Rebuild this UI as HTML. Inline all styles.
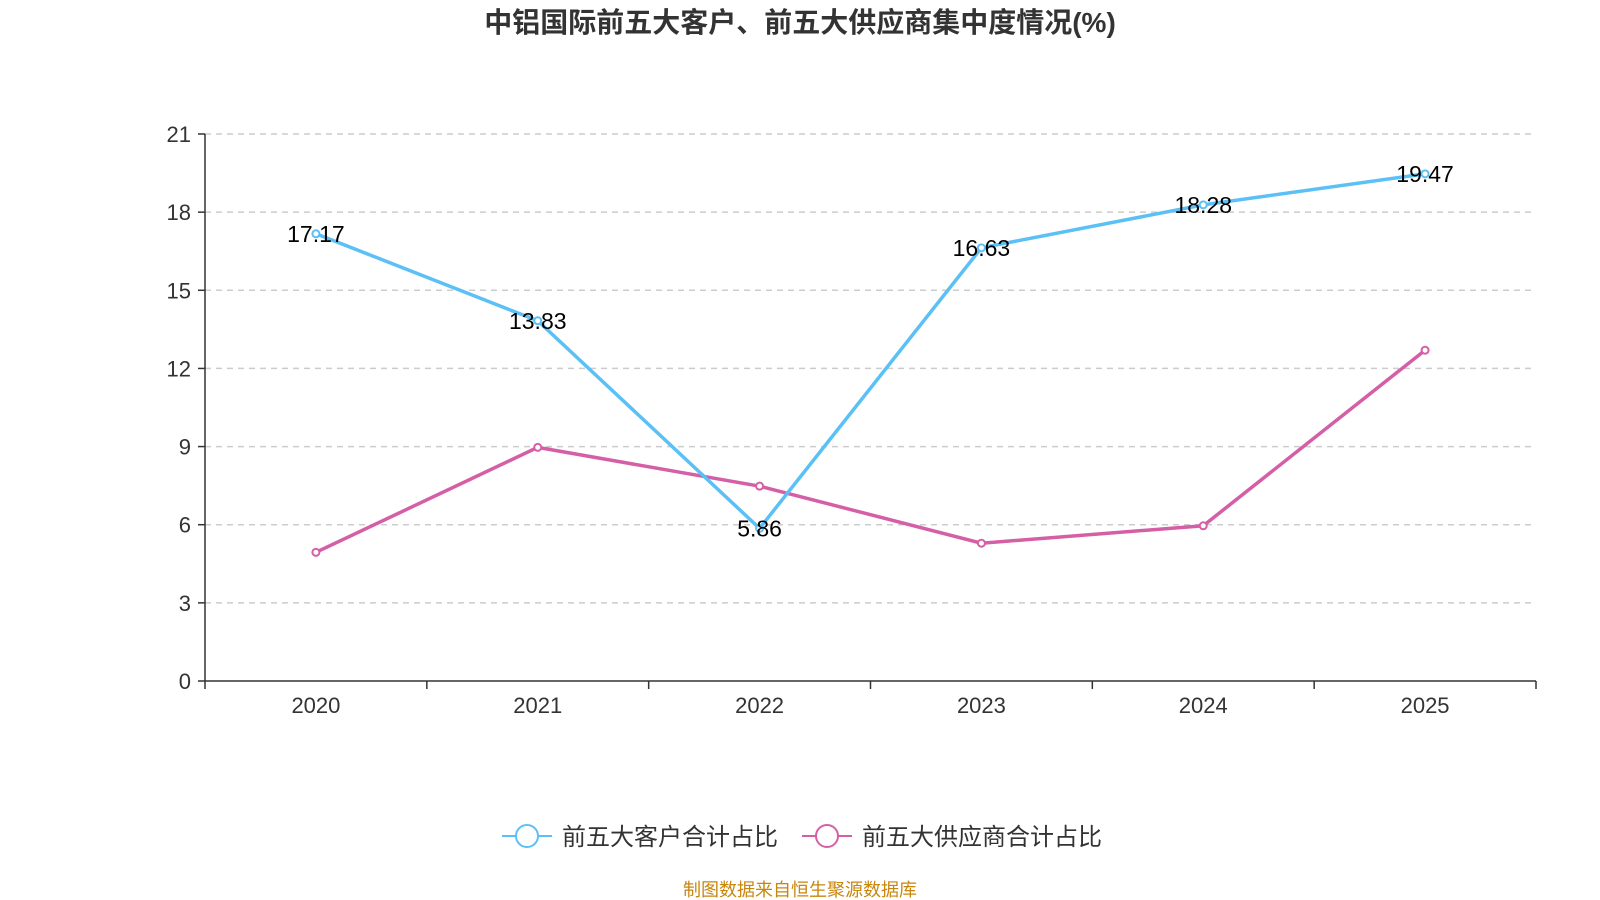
<!DOCTYPE html>
<html><head><meta charset="utf-8">
<style>
html,body{margin:0;padding:0;background:#fff;width:1600px;height:900px;overflow:hidden}
svg{display:block}
text{font-family:"Liberation Sans","Noto Sans CJK SC",sans-serif}
</style></head>
<body>
<svg id="chart" width="1600" height="900" xmlns="http://www.w3.org/2000/svg">
<text x="800" y="32" text-anchor="middle" font-size="28" font-weight="bold" fill="#333">中铝国际前五大客户、前五大供应商集中度情况(%)</text>
<g id="grid"></g><g id="axes"></g><g id="series"></g>
<g>
 <g>
  <line x1="502" y1="836" x2="552" y2="836" stroke="#5bc0f5" stroke-width="2"/>
  <circle cx="527" cy="836" r="11" fill="#fff" stroke="#5bc0f5" stroke-width="2"/>
  <text x="562" y="845" font-size="24" fill="#333">前五大客户合计占比</text>
 </g>
 <g>
  <line x1="802" y1="836" x2="852" y2="836" stroke="#d55fa6" stroke-width="2"/>
  <circle cx="827" cy="836" r="11" fill="#fff" stroke="#d55fa6" stroke-width="2"/>
  <text x="862" y="845" font-size="24" fill="#333">前五大供应商合计占比</text>
 </g>
</g>
<text x="800" y="896" text-anchor="middle" font-size="18" fill="#c8860d">制图数据来自恒生聚源数据库</text>
</svg>
<script>
const categories=["2020","2021","2022","2023","2024","2025"];
const customerValues=[17.17,13.83,5.86,16.63,18.28,19.47];
const supplierValues=[4.94,8.97,7.48,5.29,5.96,12.7];
const yTicks=[0,3,6,9,12,15,18,21];
const L=205,R=1536,T=134,B=681,YMAX=21;
const NS="http://www.w3.org/2000/svg";
const bw=(R-L)/categories.length;
const xs=i=>L+bw*(i+0.5);
const ys=v=>B-(v/YMAX)*(B-T);
function mk(tag,attrs,parent,txt){const e=document.createElementNS(NS,tag);for(const k in attrs)e.setAttribute(k,attrs[k]);if(txt!==undefined)e.textContent=txt;parent.appendChild(e);return e;}
const grid=document.getElementById('grid'),axes=document.getElementById('axes'),ser=document.getElementById('series');
yTicks.forEach(t=>{
 if(t>0){const g=mk('line',{x1:L,x2:R,y1:ys(t),y2:ys(t),stroke:'#ccc','stroke-width':1.5,'stroke-dasharray':'6,5'},grid);
 
 }
 mk('line',{x1:L-7,x2:L,y1:ys(t),y2:ys(t),stroke:'#333','stroke-width':1.5},axes);
 const tl=mk('text',{x:L-14,y:ys(t)+8,'text-anchor':'end','font-size':22,fill:'#333'},axes,t);
 
 
});
mk('line',{x1:L,x2:L,y1:T,y2:B,stroke:'#333','stroke-width':1.5},axes);
mk('line',{x1:L,x2:R,y1:B,y2:B,stroke:'#333','stroke-width':1.5},axes);
for(let i=0;i<=categories.length;i++)mk('line',{x1:L+bw*i,x2:L+bw*i,y1:B,y2:B+8,stroke:'#333','stroke-width':1.5},axes);
categories.forEach((c,i)=>{const t=mk('text',{x:xs(i),y:B+32,'text-anchor':'middle','font-size':22,fill:'#333'},axes,c);
 
 });
function drawSeries(vals,color,name,labels){
 const p=mk('polyline',{points:vals.map((v,i)=>xs(i)+','+ys(v)).join(' '),fill:'none',stroke:color,'stroke-width':3.5},ser);
 
 
 vals.forEach((v,i)=>{
  const c=mk('circle',{cx:xs(i),cy:ys(v),r:3.5,fill:'#fff',stroke:color,'stroke-width':2},ser);
  
  
  if(labels){const t=mk('text',{x:xs(i),y:ys(v)+8,'text-anchor':'middle','font-size':23,fill:'#000'},ser,v.toFixed(2));
   
   }
 });
}
drawSeries(supplierValues,'#d55fa6','suppliers',false);
drawSeries(customerValues,'#5bc0f5','customers',true);
</script>
</body></html>
